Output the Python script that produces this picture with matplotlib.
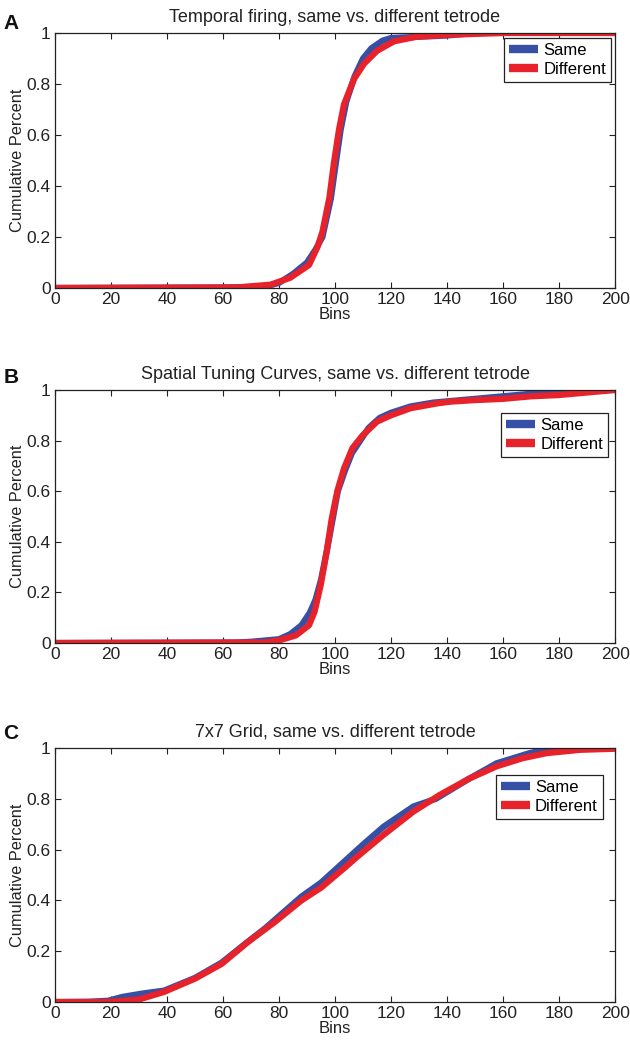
import numpy as np
import matplotlib
matplotlib.use("Agg")
import matplotlib.pyplot as plt

plt.rcParams['font.family'] = ['Liberation Sans', 'DejaVu Sans']

# ---- data (bin, cumulative fraction) ----
titles = ["Temporal firing, same vs. different tetrode",
          "Spatial Tuning Curves, same vs. different tetrode",
          "7x7 Grid, same vs. different tetrode"]
letters = ["A", "B", "C"]
series_names = ["Same", "Different"]

a_same_x = [0, 60, 75, 80, 85, 90, 93, 95.5, 98.5, 100.3, 102, 104, 107, 110, 113, 117, 120, 130, 140, 150, 200]
a_same_y = [0, 0.002, 0.005, 0.02, 0.055, 0.1, 0.15, 0.2, 0.35, 0.49, 0.62, 0.73, 0.83, 0.9, 0.94, 0.97, 0.98, 0.985, 0.99, 1.0, 1.0]
a_diff_x = [0, 65, 77, 84, 90.7, 93.7, 95.5, 98, 99.6, 101.4, 103.2, 106.8, 110.4, 115, 121, 129, 141, 160, 200]
a_diff_y = [0, 0.002, 0.013, 0.04, 0.09, 0.16, 0.22, 0.355, 0.49, 0.62, 0.72, 0.82, 0.88, 0.93, 0.967, 0.985, 0.993, 1.0, 1.0]

b_same_x = [0, 65, 70, 80, 84, 88, 91, 93, 95, 97, 99, 101, 103.5, 106, 109, 112, 116, 120, 127, 135, 140, 150, 160, 170, 175, 180, 190, 200]
b_same_y = [0, 0.002, 0.005, 0.015, 0.035, 0.07, 0.12, 0.17, 0.25, 0.36, 0.48, 0.6, 0.68, 0.75, 0.8, 0.85, 0.89, 0.91, 0.935, 0.95, 0.955, 0.965, 0.975, 0.985, 0.99, 0.995, 1.0, 1.0]
b_diff_x = [0, 75, 80.6, 86, 90.7, 92.7, 94.9, 97, 98.8, 100.8, 103.2, 106.2, 109.8, 115, 120, 127, 136.5, 141.3, 150, 160, 170, 180, 190, 200]
b_diff_y = [0, 0.002, 0.012, 0.03, 0.07, 0.124, 0.23, 0.36, 0.49, 0.6, 0.69, 0.77, 0.82, 0.875, 0.9, 0.928, 0.947, 0.954, 0.96, 0.965, 0.975, 0.98, 0.99, 1.0]

c_same_x = [0, 12, 19, 24, 31, 39, 50, 59.5, 68, 75, 88, 95, 98, 104, 110, 117.3, 128, 136, 148, 157.7, 169.5, 175.6, 181.6, 200]
c_same_y = [0, 0.001, 0.005, 0.02, 0.033, 0.045, 0.095, 0.155, 0.23, 0.29, 0.415, 0.47, 0.5, 0.56, 0.62, 0.69, 0.77, 0.8, 0.88, 0.94, 0.98, 0.995, 1.0, 1.0]
c_diff_x = [0, 18, 24, 30, 39, 50, 59.5, 69, 78.6, 88, 95, 98.2, 103.6, 107.7, 117.3, 128, 137.5, 148, 157.7, 167, 175.6, 187.5, 199.4]
c_diff_y = [0, 0.0, 0.004, 0.01, 0.04, 0.092, 0.15, 0.237, 0.316, 0.4, 0.45, 0.48, 0.53, 0.57, 0.658, 0.75, 0.816, 0.88, 0.928, 0.96, 0.98, 0.993, 0.997]

panels = [
    (a_same_x, a_same_y, a_diff_x, a_diff_y),
    (b_same_x, b_same_y, b_diff_x, b_diff_y),
    (c_same_x, c_same_y, c_diff_x, c_diff_y),
]

# axes boxes in figure fractions, and legend anchors (axes fractions)
boxes = [[0.0873, 0.7239, 0.889, 0.2445],
         [0.0873, 0.3835, 0.889, 0.2426],
         [0.0873, 0.0393, 0.889, 0.2435]]
legend_anchor = [(0.993, 0.98), (0.9875, 0.909), (0.978, 0.894)]
letter_y = [0.977, 0.638, 0.297]

blue = '#3550a5'
red = '#e8222b'
ink = '#222222'

fig = plt.figure(figsize=(6.3, 10.43), dpi=100)

for i, (sx, sy, dx, dy) in enumerate(panels):
    ax = fig.add_axes(boxes[i])
    ax.plot(sx, sy, color=blue, lw=4.5, solid_joinstyle='round', label=series_names[0])
    ax.plot(dx, dy, color=red, lw=4.5, solid_joinstyle='round', label=series_names[1])
    ax.set_xlim(0, 200)
    ax.set_ylim(0, 1)
    ax.set_xticks(np.arange(0, 201, 20))
    ax.set_yticks([0, 0.2, 0.4, 0.6, 0.8, 1])
    ax.set_yticklabels(['0', '0.2', '0.4', '0.6', '0.8', '1'])
    ax.tick_params(direction='in', top=True, right=True, length=4, width=0.8,
                   labelsize=12.5, pad=3, colors=ink)
    for sp in ax.spines.values():
        sp.set_linewidth(0.9)
        sp.set_color(ink)
    ax.set_title(titles[i], fontsize=13, pad=8, color=ink)
    ax.set_xlabel('Bins', fontsize=12, labelpad=0, color=ink)
    ax.set_ylabel('Cumulative Percent', fontsize=11.8, labelpad=1, color=ink)
    leg = ax.legend(loc='upper right', bbox_to_anchor=legend_anchor[i], fontsize=12,
                    frameon=True, fancybox=False, edgecolor=ink,
                    handlelength=1.75, handletextpad=0.3, borderpad=0.3,
                    labelspacing=0.25, borderaxespad=0, framealpha=1)
    leg.get_frame().set_linewidth(0.9)
    for ln in leg.get_lines():
        ln.set_linewidth(6)
        ln.set_solid_capstyle('butt')
    fig.text(0.005, letter_y[i], letters[i], fontsize=15, fontweight='bold',
             va='center', ha='left', color='#111111')

fig.savefig('out.png', dpi=100)
